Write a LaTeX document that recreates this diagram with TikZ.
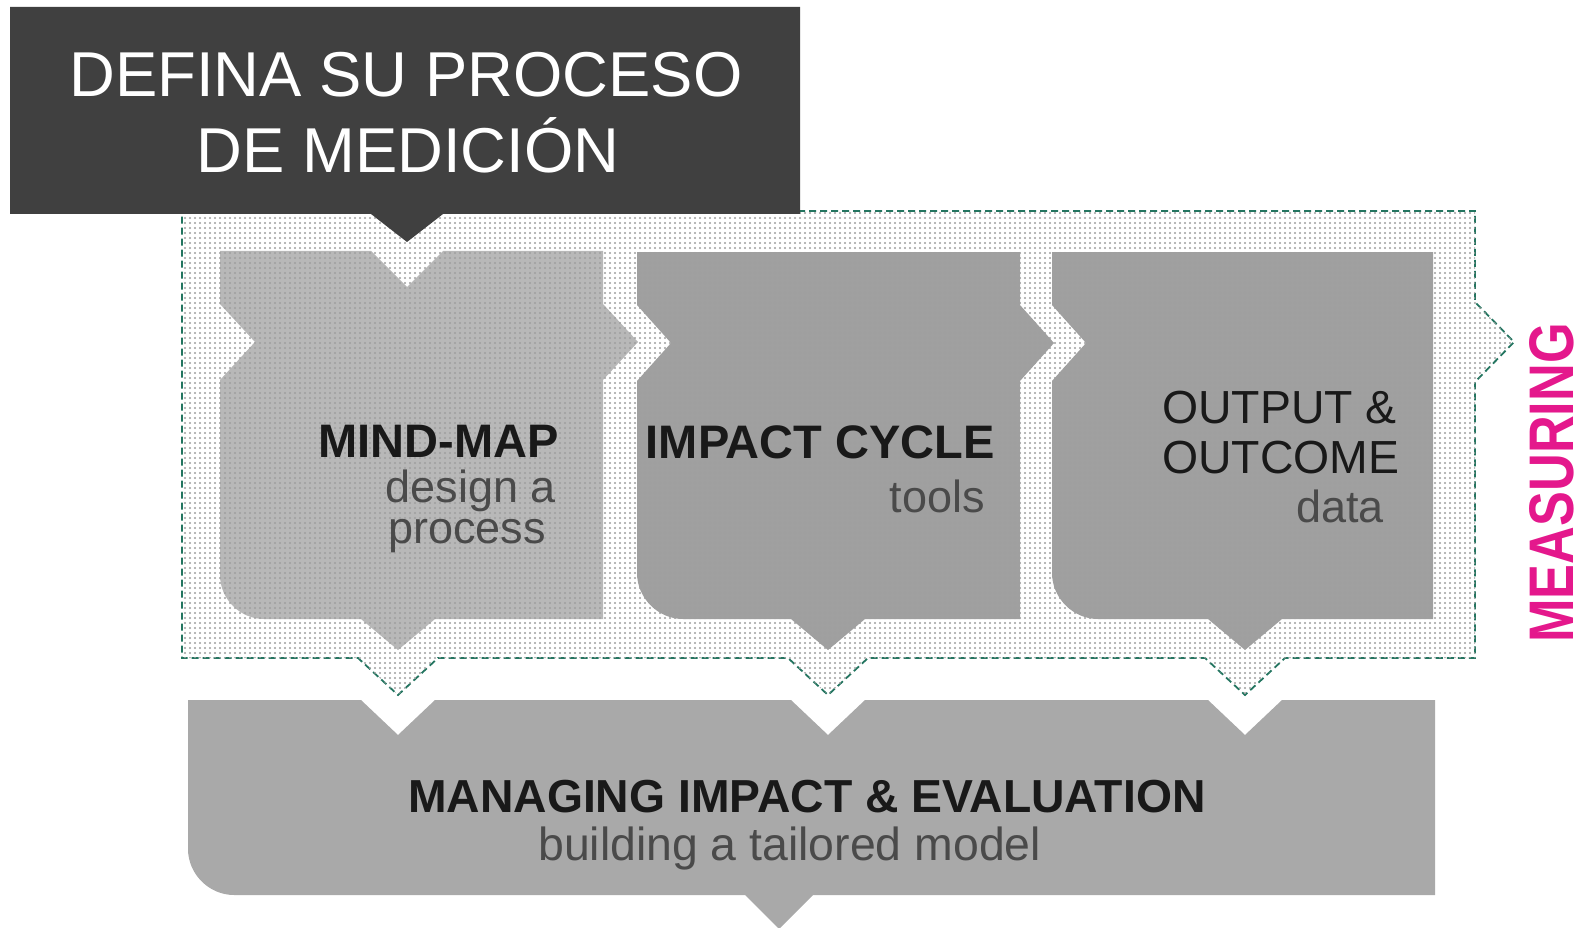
\documentclass[tikz,border=0pt]{standalone}
\usepackage{fontspec}
\usepackage{graphicx}
\setmainfont{Liberation Sans}
\usetikzlibrary{patterns.meta}
\definecolor{titlegray}{HTML}{404040}
\definecolor{lightpanel}{HTML}{B8B8B8}
\definecolor{darkpanel}{HTML}{A0A0A0}
\definecolor{basegray}{HTML}{A9A9A9}
\definecolor{dashteal}{HTML}{237560}
\definecolor{measurepink}{HTML}{E4188C}
\definecolor{subgray}{HTML}{4A4A4A}

\begin{document}
\begin{tikzpicture}[x=1pt,y=-1pt,
	titletext/.style={font=\fontsize{63.4}{76}\selectfont, text=white, inner sep=0pt},
	headtext/.style={font=\fontsize{47}{50}\selectfont\bfseries, text=black!90, inner sep=0pt},
	bodytext/.style={font=\fontsize{46.4}{50}\selectfont, text=black!90, inner sep=0pt},
	subtext/.style={font=\fontsize{45}{40}\selectfont, text=subgray, inner sep=0pt},
	dotfill/.style={pattern={Dots[distance=5pt,radius=1.1pt]}, pattern color=gray!75}]
	\useasboundingbox (0,0) rectangle (1593,928);

	%measuring frame
	\draw[dashteal, line width=1.8pt, dash pattern=on 7pt off 4pt, fill=white, postaction={dotfill}]
		(182,211) -- (1475,211) -- (1475,302) -- (1514,342) -- (1475,382) -- (1475,658)
		-- (1285,658) -- (1245,695) -- (1205,658)
		-- (868,658) -- (828,695) -- (788,658)
		-- (438,658) -- (398,695) -- (358,658) -- (182,658) -- cycle;

	%panels
		%mind-map
		\fill[lightpanel, postaction={dotfill}] (220,251) -- (371,251) -- (407,287) -- (443,251) -- (603,251)
			-- (603,304) -- (638,342) -- (603,380) -- (603,619)
			-- (435,619) -- (398,650) -- (361,619) -- (264,619) .. controls (240,619) and (220,599) .. (220,575)
			-- (220,380) -- (255,342) -- (220,304) -- cycle;
		%impact cycle
		\fill[darkpanel, postaction={dotfill}] (637,252) -- (1020,252)
			-- (1020,305) -- (1054,343) -- (1020,381) -- (1020,619)
			-- (865,619) -- (828,650) -- (791,619) -- (683,619) .. controls (658,619) and (637,598) .. (637,573)
			-- (637,381) -- (671,343) -- (637,305) -- cycle;
		%output & outcome
		\fill[darkpanel, postaction={dotfill}] (1052,252) -- (1433,252) -- (1433,619)
			-- (1282,619) -- (1245,650) -- (1208,619) -- (1098,619) .. controls (1073,619) and (1052,598) .. (1052,573)
			-- (1052,381) -- (1086,343) -- (1052,305) -- cycle;

	%managing box
	\fill[basegray] (188,700) -- (361,700) -- (398,735) -- (435,700)
		-- (791,700) -- (828,735) -- (865,700)
		-- (1208,700) -- (1245,735) -- (1282,700) -- (1435,700) -- (1435,895)
		-- (813,895) -- (779,929) -- (745,895) -- (234,895) .. controls (209,895) and (188,874) .. (188,849) -- cycle;

	%title box
	\fill[titlegray] (10,7) -- (800,7) -- (800,214) -- (443,214) -- (407,242) -- (371,214) -- (10,214) -- cycle;

	%texts
	\node[titletext, anchor=base] (title1) at (406,97) {DEFINA SU PROCESO};
	\node[titletext, anchor=base] (title2) at (408,173) {DE MEDICIÓN};

	\node[headtext, anchor=base east] (mindmap) at (559,457) {MIND-MAP};
	\node[subtext, anchor=base east] (mindmap1) at (556,502) {design a};
	\node[subtext, anchor=base east] (mindmap2) at (546,543) {process};

	\node[headtext, anchor=base east] (impact) at (995,458) {IMPACT CYCLE};
	\node[subtext, anchor=base east] (impact1) at (985,512) {tools};

	\node[bodytext, anchor=base west] (output1) at (1162,423) {OUTPUT \&};
	\node[bodytext, anchor=base west] (output2) at (1162,473) {OUTCOME};
	\node[subtext, anchor=base east] (output3) at (1384,522) {data};

	\node[headtext, font=\fontsize{46.3}{50}\selectfont\bfseries, anchor=base west] (managing) at (408,812) {MANAGING IMPACT \& EVALUATION};
	\node[bodytext, text=subgray, anchor=base west] (managing1) at (538,860) {building a tailored model};

	\node[font=\fontsize{63}{63}\selectfont\bfseries, text=measurepink, inner sep=0pt,
		rotate=90, anchor=base] (measuring) at (1573,483) {\scalebox{0.83}[1]{MEASURING}};
\end{tikzpicture}
\end{document}
